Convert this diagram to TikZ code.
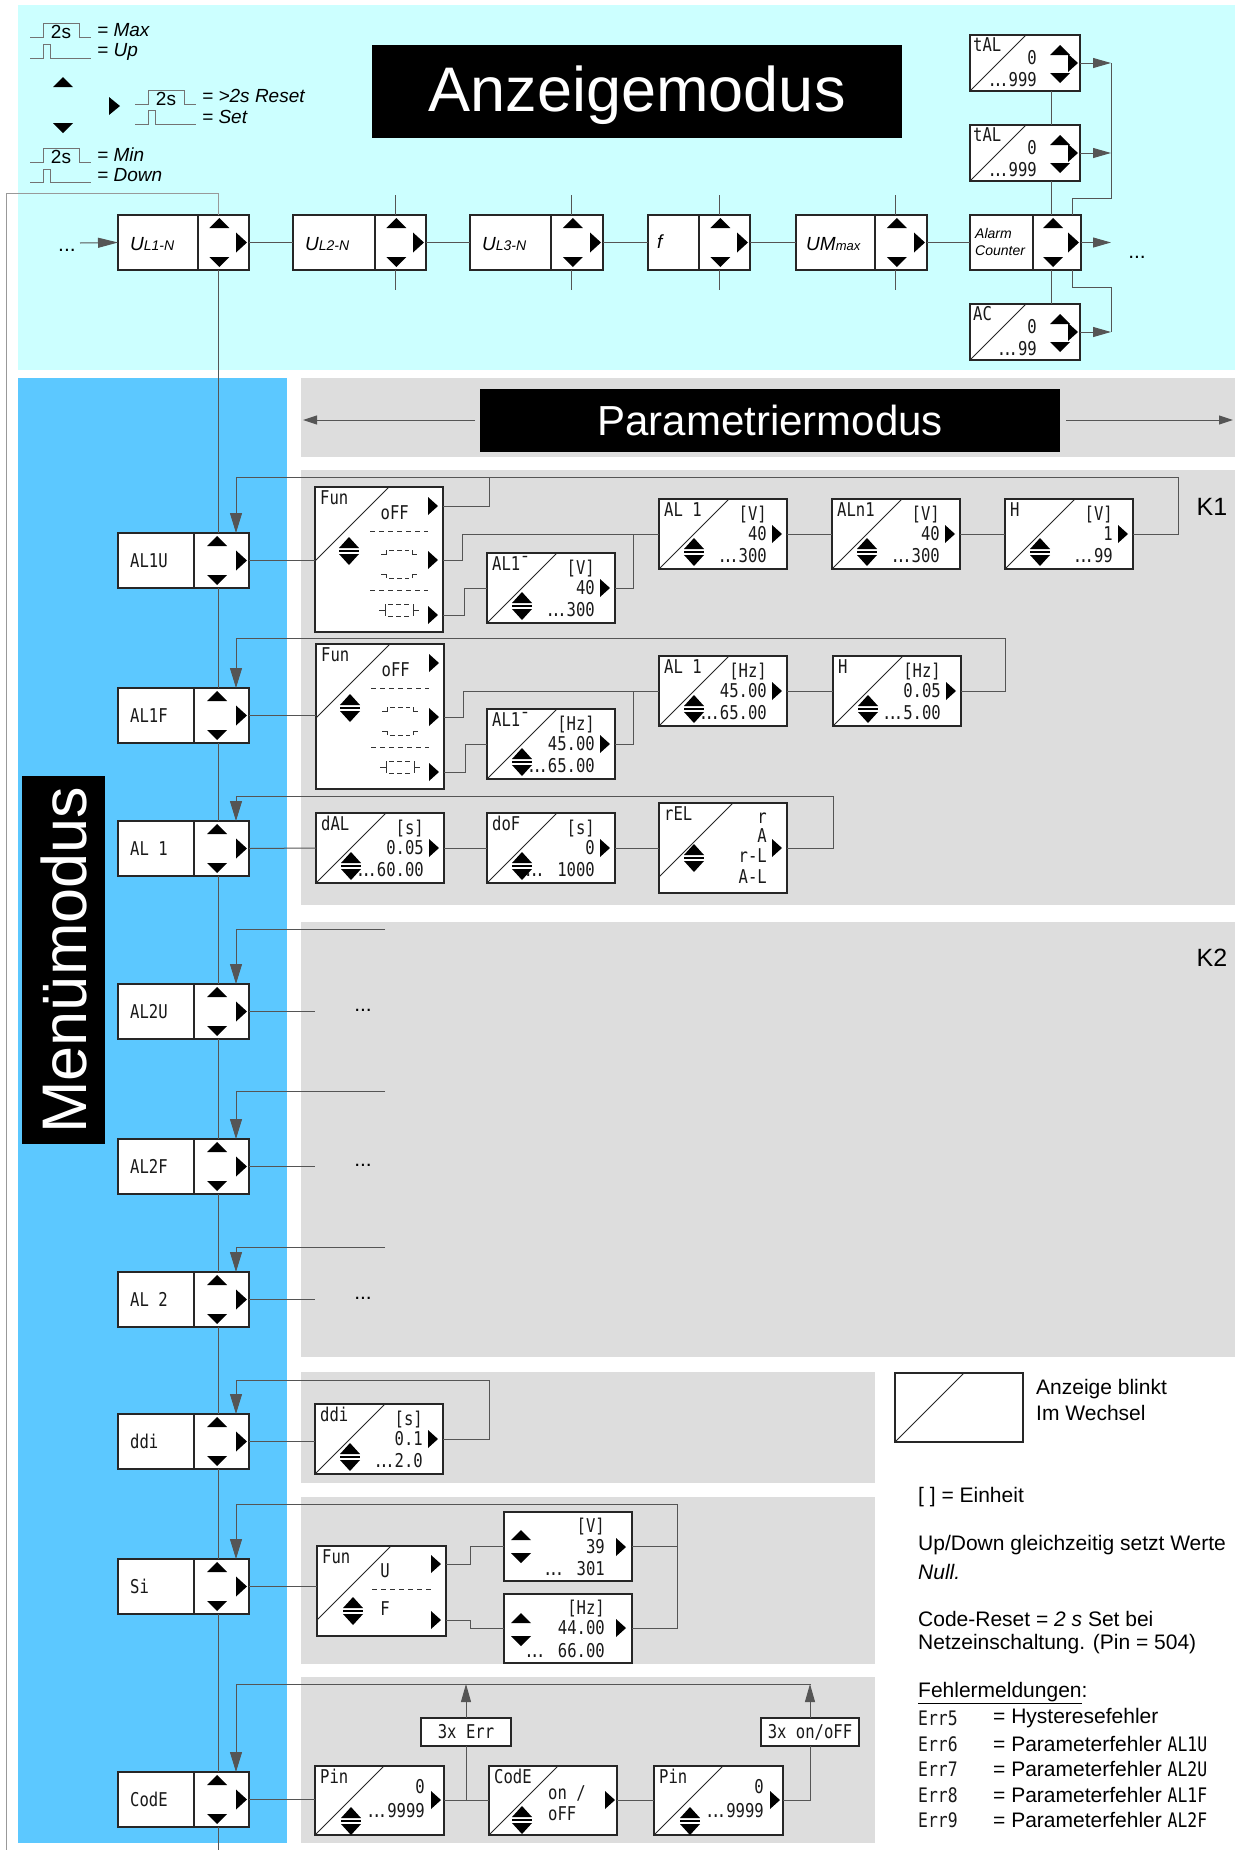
\documentclass[tikz,border=0pt]{standalone}
\usepackage{fontspec}
\setmainfont{Liberation Sans}
\newfontfamily\lcdf[FakeStretch=0.82]{DejaVu Sans Mono}
\usetikzlibrary{arrows.meta}
\newcounter{tn}
\newcommand\ddd{.\kern-3.5pt.\kern-3.5pt.}
\definecolor{cyanbg}{RGB}{204,255,255}
\definecolor{bluebg}{RGB}{92,200,255}
\definecolor{greybg}{RGB}{221,221,221}
\definecolor{conc}{RGB}{85,85,85}
\tikzset{
 bx/.style={rectangle, draw=black!85, line width=1.2pt, fill=white, anchor=north west, inner sep=0pt, outer sep=0pt},
 bxl/.style={draw=black!85, line width=1.2pt},
 dg/.style={draw=black!85, line width=1pt},
 con/.style={draw=conc, line width=1pt},
 ret/.style={con, -{Triangle[width=12pt,length=20pt]}},
 upar/.style={con, -{Triangle[width=10pt,length=18pt]}},
 lcd/.style={font=\lcdf\fontsize{19}{19}\selectfont, inner sep=0pt, text=black!90},
 lcdb/.style={font=\lcdf\fontsize{20}{20}\selectfont, inner sep=0pt, text=black!90},
 dsh/.style={draw=black!80, line width=1pt, dash pattern=on 5pt off 4pt},
 icn/.style={draw=black!80, line width=1pt},
 pls/.style={draw=black!55, line width=1pt},
 leg/.style={font=\fontsize{19}{19}\selectfont\itshape, inner sep=0pt, anchor=west},
 txt/.style={font=\fontsize{21}{21}\selectfont, inner sep=0pt, anchor=west},
 dots/.style={font=\fontsize{21}{21}\selectfont, inner sep=0pt},
}
\newcommand\xTU[2]{\fill[black] ({#1},{#2-5}) -- ({#1+10},{#2+5}) -- ({#1-10},{#2+5}) -- cycle;}
\newcommand\xTD[2]{\fill[black] ({#1},{#2+5}) -- ({#1+10},{#2-5}) -- ({#1-10},{#2-5}) -- cycle;}
\newcommand\xTR[2]{\fill[black] ({#1+5.5},{#2}) -- ({#1-5.5},{#2-10}) -- ({#1-5.5},{#2+10}) -- cycle;}
\newcommand\xTRs[2]{\fill[black] ({#1+5},{#2}) -- ({#1-5},{#2-9}) -- ({#1-5},{#2+9}) -- cycle;}
\newcommand\xUD[2]{\fill[black] ({#1},{#2-14}) -- ({#1+10},{#2-3}) -- ({#1-10},{#2-3}) -- cycle;
 \fill[black] ({#1-10},{#2-1.2}) rectangle ({#1+10},{#2+1.2});
 \fill[black] ({#1},{#2+14}) -- ({#1+10},{#2+3}) -- ({#1-10},{#2+3}) -- cycle;}
\newcommand\xLT[4]{\stepcounter{tn}\node[lcd,anchor=#3] (t\arabic{tn}) at ({#1},{#2}) {#4};}
\newcommand\xRowBox[6]{%
 \node[bx, minimum width=#4pt, minimum height=#6pt] (#1) at (#2,#3) {};
 \draw[bxl] ({#2+#5},{#3}) -- ({#2+#5},{#3+#6});
 \xTU{#2+#5+0.42*(#4-#5)}{#3+8}
 \xTD{#2+#5+0.42*(#4-#5)}{#3+#6-8}
 \xTR{#2+#4-7.5}{#3+#6/2}}
\newcommand\xMBox[3]{\xRowBox{#1}{118}{#2}{131}{76}{55}\xLT{130}{#2+27.5}{west}{#3}}
\newcommand\xPBox[5]{%
 \node[bx, minimum width=#4pt, minimum height=#5pt] (#1) at (#2,#3) {};
 \draw[dg] ({#2},{#3+min(#5,74)}) -- ({#2+min(#5,74)},{#3});}
\newcommand\xVBox[8]{%
 \xPBox{#1}{#2}{#3}{128}{#4}
 \xLT{#2+5}{#3+3}{north west}{#5}
 \xLT{#2+108}{#3+16}{east}{#6}
 \xLT{#2+108}{#3+35}{east}{#7}
 \xLT{#2+108}{#3+57}{east}{#8}
 \xTRs{#2+118}{#3+35}
 \xUD{#2+35}{#3+53}}
\newcommand\xIconA[2]{%
 \draw[icn] ({#1-18},{#2-10}) -- ({#1-13},{#2-10}) -- ({#1-13},{#2-14});
 \draw[icn,dash pattern=on 5pt off 3pt] ({#1-10},{#2-14}) -- ({#1+10},{#2-14});
 \draw[icn] ({#1+13},{#2-14}) -- ({#1+13},{#2-10}) -- ({#1+18},{#2-10});
 \draw[icn] ({#1-18},{#2+10}) -- ({#1-13},{#2+10}) -- ({#1-13},{#2+14});
 \draw[icn,dash pattern=on 5pt off 3pt] ({#1-10},{#2+14}) -- ({#1+10},{#2+14});
 \draw[icn] ({#1+13},{#2+14}) -- ({#1+13},{#2+10}) -- ({#1+18},{#2+10});}
\newcommand\xIconB[2]{%
 \draw[icn] ({#1-20},{#2}) -- ({#1-14},{#2});
 \draw[icn] ({#1-14},{#2-6}) -- ({#1-14},{#2+6});
 \draw[icn,dash pattern=on 5pt off 3pt] ({#1-11},{#2-6}) -- ({#1+11},{#2-6});
 \draw[icn,dash pattern=on 5pt off 3pt] ({#1-11},{#2+6}) -- ({#1+11},{#2+6});
 \draw[icn] ({#1+14},{#2-6}) -- ({#1+14},{#2+6});
 \draw[icn] ({#1+14},{#2}) -- ({#1+20},{#2});}
\newcommand\xFunBox[3]{%
 \xPBox{#1}{#2}{#3}{128}{145}
 \xLT{#2+5}{#3+3}{north west}{Fun}
 \xLT{#2+94}{#3+26}{east}{oFF}
 \xTRs{#2+118}{#3+19}
 \draw[dsh] ({#2+55},{#3+44}) -- ({#2+113},{#3+44});
 \xIconA{#2+84}{#3+77}
 \xTRs{#2+118}{#3+73}
 \draw[dsh] ({#2+55},{#3+103}) -- ({#2+113},{#3+103});
 \xIconB{#2+84}{#3+123}
 \xTRs{#2+118}{#3+128}
 \xUD{#2+34}{#3+64}
 \coordinate (#1-o1) at ({#2+128},{#3+19});
 \coordinate (#1-o2) at ({#2+128},{#3+73});
 \coordinate (#1-o3) at ({#2+128},{#3+128});}
\newcommand\xPulseL[4]{%
 \draw[pls] (#2,#3) -- ({#2+13},#3) -- ({#2+13},#4) -- ({#2+49},#4) -- ({#2+49},#3) -- ({#2+61},#3);
 \node[inner sep=0pt, font=\fontsize{19}{19}\selectfont] (#1) at ({#2+31},{(#3+#4)/2+2}) {2s};}
\newcommand\xPulseS[3]{%
 \draw[pls] (#1,#2) -- ({#1+13},#2) -- ({#1+13},#3) -- ({#1+20},#3) -- ({#1+20},#2) -- ({#1+61},#2);}
\newcommand\ULtxt[1]{{\fontsize{19}{19}\selectfont\itshape U}{\fontsize{14}{14}\selectfont\itshape L#1-N}}
\begin{document}
\begin{tikzpicture}[x=1pt,y=-1pt]
\useasboundingbox (0,0) rectangle (1235,1850);
\fill[white] (0,0) rectangle (1235,1850);
\fill[cyanbg] (18,5) rectangle (1235,370);
\fill[bluebg] (18,378) rectangle (287,1843);
\fill[greybg] (301,378) rectangle (1235,457);
\fill[greybg] (301,470) rectangle (1235,905);
\fill[greybg] (301,922) rectangle (1235,1357);
\fill[greybg] (301,1372) rectangle (875,1483);
\fill[greybg] (301,1497) rectangle (875,1664);
\fill[greybg] (301,1677) rectangle (875,1843);

% ---------- legend top left
\xPulseL{p1}{30}{37}{23}
\node[leg] (lmax) at (97,30) {= Max};
\xPulseS{30}{58}{44}
\node[leg] (lup) at (97,52) {= Up};
\xTU{63}{82}
\xTD{63}{128}
\fill[black] (120,106) -- (109,97) -- (109,115) -- cycle;
\xPulseL{p3}{135}{104}{90}
\node[leg] (lres) at (202,96) {= >2s Reset};
\xPulseS{135}{124}{110}
\node[leg] (lset) at (202,117) {= Set};
\xPulseL{p5}{30}{162}{148}
\node[leg] (lmin) at (97,155) {= Min};
\xPulseS{30}{182}{169}
\node[leg] (ldown) at (97,175) {= Down};

% ---------- titles
\node[fill=black, anchor=north west, minimum width=530pt, minimum height=93pt, inner sep=0pt] (anz) at (372,45) {};
\node[text=white, inner sep=0pt, font=\fontsize{63}{63}\selectfont] (anzt) at ([yshift=-4pt]anz.center) {Anzeigemodus};
\node[fill=black, text=white, anchor=north west, minimum width=580pt, minimum height=63pt, inner sep=0pt, font=\fontsize{42}{42}\selectfont] (par) at (480,389) {Parametriermodus};
\node[fill=black, anchor=north west, minimum width=83pt, minimum height=368pt, inner sep=0pt] (mbg) at (22,776) {};
\node[text=white, rotate=90, inner sep=0pt, font=\fontsize{63}{63}\selectfont] (mtxt) at (mbg.center) {Menümodus};
\coordinate (pl1) at (475,420); \coordinate (pl2) at (303,420);
\coordinate (pr1) at (1066,420); \coordinate (pr2) at (1233,420);
\draw[con, -{Triangle[width=9pt,length=14pt]}] (pl1) -- (pl2);
\draw[con, -{Triangle[width=9pt,length=14pt]}] (pr1) -- (pr2);
\node[inner sep=0pt, font=\fontsize{25}{25}\selectfont] (k1) at (1212,507) {K1};
\node[inner sep=0pt, font=\fontsize{25}{25}\selectfont] (k2) at (1212,958) {K2};

% ---------- main row
\xRowBox{ul1}{118}{215}{131}{80}{55}
\xRowBox{ul2}{293}{215}{133}{82}{55}
\xRowBox{ul3}{470}{215}{133}{81}{55}
\xRowBox{fb}{648}{215}{102}{51}{55}
\xRowBox{umx}{796}{215}{131}{79}{55}
\xRowBox{alc}{970}{215}{111}{63}{55}
\node[inner sep=0pt, anchor=west] (lu1) at (130,244) {\ULtxt{1}};
\node[inner sep=0pt, anchor=west] (lu2) at (305,244) {\ULtxt{2}};
\node[inner sep=0pt, anchor=west] (lu3) at (482,244) {\ULtxt{3}};
\node[inner sep=0pt, anchor=west, font=\fontsize{19}{19}\selectfont\itshape] (lf) at (657,242) {f};
\node[inner sep=0pt, anchor=west] (lum) at (806,244) {{\fontsize{19}{19}\selectfont\itshape UM}{\fontsize{13}{13}\selectfont\itshape max}};
\node[inner sep=0pt, anchor=west, align=left, font=\fontsize{14}{17}\selectfont\itshape] (lac) at (975,242) {Alarm\\Counter};
\node[dots] (dl) at (67,250) {...};
\coordinate (a0) at (80,243);
\draw[con, -{Triangle[width=10pt,length=20pt]}] (a0) -- (ul1.west);
\draw[con] (ul1.east) -- (ul2.west);
\draw[con] (ul2.east) -- (ul3.west);
\draw[con] (ul3.east) -- (fb.west);
\draw[con] (fb.east) -- (umx.west);
\draw[con] (umx.east) -- (alc.west);
\coordinate (c2) at (395,0); \coordinate (c3) at (571,0);
\coordinate (c4) at (719,0); \coordinate (c5) at (895,0);
\draw[con] (ul2.north -| c2) -- ++(0,-20); \draw[con] (ul2.south -| c2) -- ++(0,20);
\draw[con] (ul3.north -| c3) -- ++(0,-20); \draw[con] (ul3.south -| c3) -- ++(0,20);
\draw[con] (fb.north -| c4) -- ++(0,-20); \draw[con] (fb.south -| c4) -- ++(0,20);
\draw[con] (umx.north -| c5) -- ++(0,-20); \draw[con] (umx.south -| c5) -- ++(0,20);

% alarm counter column
\xPBox{tal1}{970}{35}{110}{56}
\xLT{973}{37}{north west}{tAL}\xLT{1037}{58}{east}{0}\xLT{1037}{80}{east}{\ddd999}
\xTU{1060}{50}\xTD{1060}{78}\xTRs{1073}{63}
\xPBox{tal2}{970}{125}{110}{56}
\xLT{973}{127}{north west}{tAL}\xLT{1037}{148}{east}{0}\xLT{1037}{170}{east}{\ddd999}
\xTU{1060}{140}\xTD{1060}{168}\xTRs{1073}{153}
\xPBox{ac}{970}{304}{110}{56}
\xLT{973}{306}{north west}{AC}\xLT{1037}{327}{east}{0}\xLT{1037}{349}{east}{\ddd99}
\xTU{1060}{319}\xTD{1060}{347}\xTRs{1073}{332}
\coordinate (acol) at (1051,0);
\draw[con] (tal1.south -| acol) -- (tal2.north -| acol);
\draw[con] (tal2.south -| acol) -- (alc.north -| acol);
\draw[con] (alc.south -| acol) -- (ac.north -| acol);
\draw[con, -{Triangle[width=10pt,length=18pt]}] (tal1.east) -- ++(31,0);
\draw[con, -{Triangle[width=10pt,length=18pt]}] (tal2.east) -- ++(31,0);
\draw[con, -{Triangle[width=10pt,length=18pt]}] (alc.east) -- ++(30,0);
\draw[con, -{Triangle[width=10pt,length=18pt]}] (ac.east) -- ++(31,0);
\coordinate (bus1) at (1111,63); \coordinate (bus2) at (1111,198);
\coordinate (bus3) at (1111,287); \coordinate (bus4) at (1111,332);
\coordinate (bj) at (1072,0);
\draw[con] (bus1) -- (bus2) -| (alc.north -| bj);
\draw[con] (alc.south -| bj) |- (bus3) -- (bus4);
\node[dots] (dr) at (1137,257) {...};

% ---------- menu column
\xMBox{m1}{533}{AL1U}
\xMBox{m2}{688}{AL1F}
\xMBox{m3}{821}{AL 1}
\xMBox{m4}{984}{AL2U}
\xMBox{m5}{1139}{AL2F}
\xMBox{m6}{1272}{AL 2}
\xMBox{m7}{1414}{ddi}
\xMBox{m8}{1559}{Si}
\xMBox{m9}{1772}{CodE}
\coordinate (col) at (218,0);
\coordinate (rc) at (236,0);
\coordinate (lpA) at (218,193); \coordinate (lpB) at (6,193); \coordinate (lpC) at (6,1850);
\coordinate (colend) at (218,1850);
\draw[con, draw=black!40] (ul1.north -| col) -- (lpA) -- (lpB) -- (lpC);
\draw[con] (ul1.south -| col) -- (m1.north -| col);
\draw[con] (m1.south -| col) -- (m2.north -| col);
\draw[con] (m2.south -| col) -- (m3.north -| col);
\draw[con] (m3.south -| col) -- (m4.north -| col);
\draw[con] (m4.south -| col) -- (m5.north -| col);
\draw[con] (m5.south -| col) -- (m6.north -| col);
\draw[con] (m6.south -| col) -- (m7.north -| col);
\draw[con] (m7.south -| col) -- (m8.north -| col);
\draw[con] (m8.south -| col) -- (m9.north -| col);
\draw[con] (m9.south -| col) -- (colend);

% ---------- K1 row 1
\xFunBox{fun1}{315}{487}
\xVBox{alb1}{487}{553}{70}{AL1¯}{[V]}{40}{\ddd300}
\xVBox{alv1}{659}{499}{70}{AL 1}{[V]}{40}{\ddd300}
\xVBox{aln1}{832}{499}{70}{ALn1}{[V]}{40}{\ddd300}
\xVBox{hv1}{1005}{499}{70}{H}{[V]}{1}{\ddd99}
\coordinate (j1) at (489,477);
\coordinate (r1) at (1178,477);
\draw[con] (m1.east) -- (m1.east -| fun1.west);
\draw[con] (fun1-o1) -| (j1);
\draw[con] (fun1-o2) -- ++(19,0) |- (alv1.west);
\draw[con] (fun1-o3) -- ++(21,0) |- (alb1.west);
\draw[con] (alb1.east) -- ++(18,0) |- (alv1.west);
\draw[con] (alv1.east) -- (aln1.west);
\draw[con] (aln1.east) -- (hv1.west);
\draw[ret] (hv1.east) -| (r1) -| (m1.north -| rc);

% ---------- K1 row 2
\xFunBox{fun2}{316}{644}
\xVBox{alb2}{487}{709}{70}{AL1¯}{[Hz]}{45.00}{\ddd65.00}
\xVBox{alh2}{659}{656}{70}{AL 1}{[Hz]}{45.00}{\ddd65.00}
\xVBox{hh2}{833}{656}{70}{H}{[Hz]}{0.05}{\ddd5.00}
\coordinate (r2) at (1005,638);
\draw[con] (m2.east) -- (m2.east -| fun2.west);
\draw[con] (fun2-o2) -- ++(19,0) |- (alh2.west);
\draw[con] (fun2-o3) -- ++(21,0) |- (alb2.west);
\draw[con] (alb2.east) -- ++(18,0) |- (alh2.west);
\draw[con] (alh2.east) -- (hh2.west);
\draw[ret] (hh2.east) -| (r2) -| (m2.north -| rc);

% ---------- K1 row 3
\xVBox{dal}{316}{813}{70}{dAL}{[s]}{0.05}{\ddd60.00}
\xVBox{dof}{487}{813}{70}{doF}{[s]}{0}{\ddd{} 1000}
\xPBox{rel}{659}{803}{128}{90}
\xLT{664}{806}{north west}{rEL}
\xLT{767}{818}{east}{r}\xLT{767}{836}{east}{A}\xLT{767}{856}{east}{r-L}\xLT{767}{877}{east}{A-L}
\xTRs{777}{848}\xUD{694}{858}
\coordinate (r3) at (833,796);
\draw[con] (m3.east) -- (dal.west);
\draw[con] (dal.east) -- (dof.west);
\draw[con] (dof.east) -- (rel.west);
\draw[ret] (rel.east) -| (r3) -| (m3.north -| rc);

% ---------- K2
\coordinate (k2a) at (385,929); \coordinate (k2b) at (385,1091); \coordinate (k2c) at (385,1247);
\draw[ret] (k2a) -| (m4.north -| rc);
\draw[ret] (k2b) -| (m5.north -| rc);
\draw[ret] (k2c) -| (m6.north -| rc);
\draw[con] (m4.east) -- ++(66,0);
\draw[con] (m5.east) -- ++(66,0);
\draw[con] (m6.east) -- ++(66,0);
\node[dots] (d4) at (363,1010) {...};
\node[dots] (d5) at (363,1165) {...};
\node[dots] (d6) at (363,1298) {...};

% ---------- ddi
\xVBox{ddp}{315}{1404}{70}{ddi}{[s]}{0.1}{\ddd2.0}
\coordinate (r7) at (489,1380);
\draw[con] (m7.east) -- (m7.east -| ddp.west);
\draw[ret] (ddp.east) -| (r7) -| (m7.north -| rc);

% ---------- Si
\xPBox{fun3}{317}{1546}{129}{90}
\xLT{322}{1549}{north west}{Fun}
\xLT{385}{1571}{center}{U}
\xTRs{436}{1564}
\draw[dsh] (372,1589) -- (431,1589);
\xLT{385}{1609}{center}{F}
\xTRs{436}{1620}
\xUD{353}{1611}
\coordinate (fun3-o1) at (446,1564);
\coordinate (fun3-o2) at (446,1620);
\node[bx, minimum width=128pt, minimum height=69pt] (svb) at (504,1512) {};
\xTU{521}{1535}\xTD{521}{1558}
\xLT{605}{1527}{east}{[V]}\xLT{605}{1547}{east}{39}\xLT{605}{1569}{east}{\ddd{} 301}
\xTRs{621}{1547}
\node[bx, minimum width=128pt, minimum height=69pt] (shz) at (504,1594) {};
\xTU{521}{1618}\xTD{521}{1641}
\xLT{605}{1609}{east}{[Hz]}\xLT{605}{1628}{east}{44.00}\xLT{605}{1651}{east}{\ddd{} 66.00}
\xTRs{621}{1628}
\coordinate (r8) at (677,1504);
\draw[con] (m8.east) -- (m8.east -| fun3.west);
\draw[con] (fun3-o1) -- ++(24,0) |- (svb.west);
\draw[con] (fun3-o2) -- ++(24,0) |- (shz.west);
\draw[con] (svb.east) -- (svb.east -| r8);
\draw[ret] (shz.east) -| (r8) -| (m8.north -| rc);

% ---------- CodE
\xPBox{pin1}{315}{1766}{129}{69}
\xLT{320}{1769}{north west}{Pin}\xLT{425}{1787}{east}{0}\xLT{425}{1811}{east}{\ddd9999}
\xTRs{436}{1800}\xUD{351}{1821}
\xPBox{cdb}{489}{1766}{128}{69}
\xLT{494}{1769}{north west}{CodE}\xLT{548}{1793}{west}{on /}\xLT{548}{1814}{west}{oFF}
\xTRs{610}{1800}\xUD{522}{1820}
\xPBox{pin2}{654}{1766}{129}{69}
\xLT{659}{1769}{north west}{Pin}\xLT{764}{1787}{east}{0}\xLT{764}{1811}{east}{\ddd9999}
\xTRs{775}{1800}\xUD{690}{1821}
\node[bx, lcd, minimum width=90pt, minimum height=28pt] (err) at (421,1718) {3x Err};
\node[bx, lcd, minimum width=98pt, minimum height=28pt] (onoff) at (761,1718) {3x on/oFF};
\coordinate (r9) at (811,1684);
\draw[con] (m9.east) -- (m9.east -| pin1.west);
\draw[con] (pin1.east) -- (cdb.west);
\draw[con] (cdb.east) -- (pin2.west);
\draw[con] (err.south) -- (err.south |- pin1.east);
\draw[upar] (err.north) -- (err.north |- r9);
\draw[con] (pin2.east) -| (onoff.south);
\draw[upar] (onoff.north) -- (onoff.north |- r9);
\draw[ret] (r9) -| (m9.north -| rc);

% ---------- legend bottom right
\xPBox{blk}{895}{1373}{128}{69}
\node[txt] (lg1) at (1036,1389) {Anzeige blinkt};
\node[txt] (lg2) at (1036,1413) {Im Wechsel};
\node[txt] (lg3) at (918,1497) {[ ] = Einheit};
\node[txt] (lg4) at (918,1545) {Up/Down gleichzeitig setzt Werte};
\node[txt] (lg5) at (918,1572) {\itshape Null.};
\node[txt] (lg6) at (918,1619) {Code-Reset = \textit{2 s} Set bei};
\node[txt] (lg7) at (918,1644) {Netzeinschaltung. (Pin = 504)};
\node[txt] (lg8) at (918,1693) {\underline{Fehlermeldungen}:};
\node[lcdb, anchor=west] (e5) at (918,1718) {Err5};
\node[lcdb, anchor=west] (e6) at (918,1744) {Err6};
\node[lcdb, anchor=west] (e7) at (918,1769) {Err7};
\node[lcdb, anchor=west] (e8) at (918,1795) {Err8};
\node[lcdb, anchor=west] (e9) at (918,1820) {Err9};
\node[txt] (e5t) at (993,1718) {= Hysteresefehler};
\node[txt] (e6t) at (993,1744) {= Parameterfehler {\lcdf\fontsize{20}{20}\selectfont AL1U}};
\node[txt] (e7t) at (993,1769) {= Parameterfehler {\lcdf\fontsize{20}{20}\selectfont AL2U}};
\node[txt] (e8t) at (993,1795) {= Parameterfehler {\lcdf\fontsize{20}{20}\selectfont AL1F}};
\node[txt] (e9t) at (993,1820) {= Parameterfehler {\lcdf\fontsize{20}{20}\selectfont AL2F}};
\end{tikzpicture}
\end{document}
